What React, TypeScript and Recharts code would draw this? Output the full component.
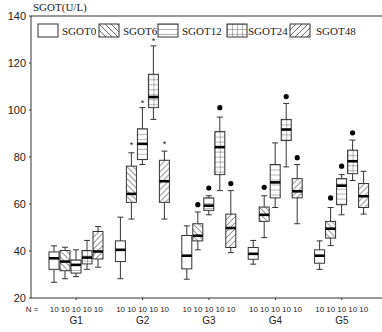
import React from 'react';
import { ComposedChart, Bar, XAxis, YAxis, ReferenceLine, Customized } from 'recharts';

const groups = ['G1', 'G2', 'G3', 'G4', 'G5'];
const nLabels = ['10', '10', '10', '10', '10'];
const yTicks = [20, 40, 60, 80, 100, 120, 140];
const seriesNames = ['SGOT0', 'SGOT6', 'SGOT12', 'SGOT24', 'SGOT48'];
const seriesPatterns = ['none', 'back', 'horiz', 'grid', 'fwd'];

// [lower whisker, Q1, median, Q3, upper whisker] per group
const sgot0 = [
  [26.7, 32.2, 36.9, 39.6, 42.2],
  [28.2, 35.5, 40.5, 44.3, 54.4],
  [28.0, 32.4, 38.0, 46.6, 50.7],
  [34.4, 36.5, 38.8, 41.5, 44.5],
  [32.2, 34.8, 38.0, 40.5, 44.3],
];
const sgot6 = [
  [28.2, 31.6, 35.5, 40.2, 41.6],
  [53.6, 60.7, 64.3, 76.1, 81.8],
  [40.5, 44.3, 46.5, 51.6, 56.6],
  [45.7, 52.6, 55.4, 58.7, 63.5],
  [42.3, 45.5, 49.5, 52.6, 58.5],
];
const sgot12 = [
  [29.1, 30.6, 34.1, 36.2, 40.5],
  [76.8, 78.9, 85.6, 92.0, 101.0],
  [55.4, 57.3, 59.3, 62.6, 63.5],
  [58.5, 62.6, 69.2, 76.8, 86.0],
  [55.4, 59.7, 67.8, 70.8, 72.5],
];
const sgot24 = [
  [32.2, 34.5, 37.2, 40.2, 44.5],
  [96.0, 101.0, 105.5, 115.2, 127.3],
  [65.7, 72.5, 84.2, 90.8, 97.0],
  [75.8, 87.0, 91.7, 96.0, 102.8],
  [70.0, 72.9, 78.2, 82.9, 87.2],
];
const sgot48 = [
  [33.1, 36.6, 39.8, 48.3, 50.4],
  [53.6, 60.7, 69.7, 78.6, 82.5],
  [39.3, 41.5, 49.8, 55.7, 65.7],
  [51.6, 62.6, 65.4, 70.8, 76.8],
  [55.7, 58.5, 63.3, 68.7, 73.9],
];

// outliers per group (null = none)
const out0 = [null, null, null, null, null];
const out6 = [null, 86.0, 59.7, 67.1, 62.6];
const out12 = [null, 103.8, 66.8, null, 76.1];
const out24 = [null, 130.2, 101.0, 105.7, 90.3];
const out48 = [null, 86.3, 68.7, 79.7, null];
const outlierMark = ['dot', 'star', 'dot', 'dot', 'dot'];

const statsBySeries = [sgot0, sgot6, sgot12, sgot24, sgot48];
const outBySeries = [out0, out6, out12, out24, out48];

const data = groups.map((g, i) => {
  const row: any = { group: g, mark: outlierMark[i] };
  seriesNames.forEach((s, si) => {
    row[s] = { stats: statsBySeries[si][i], out: outBySeries[si][i] };
  });
  return row;
});

const LINE = '#333';
const FONT_SANS = '"Liberation Sans", Arial, sans-serif';
const FONT_SERIF = '"Liberation Serif", "Times New Roman", serif';

function PatternDef({ id, type, x, y }: { id: string; type: string; x: number; y: number }) {
  const sw = 0.8;
  if (type === 'back') {
    return (
      <pattern id={id} x={x} y={y} width={6} height={6} patternUnits="userSpaceOnUse">
        <path d="M0,0 L6,6 M-1,5 L1,7 M5,-1 L7,1" stroke="#444" strokeWidth={sw} />
      </pattern>
    );
  }
  if (type === 'fwd') {
    return (
      <pattern id={id} x={x} y={y} width={6} height={6} patternUnits="userSpaceOnUse">
        <path d="M0,6 L6,0 M-1,1 L1,-1 M5,7 L7,5" stroke="#444" strokeWidth={sw} />
      </pattern>
    );
  }
  if (type === 'horiz') {
    return (
      <pattern id={id} x={x} y={y} width={10} height={5} patternUnits="userSpaceOnUse">
        <path d="M0,0 L10,0" stroke="#444" strokeWidth={sw} />
      </pattern>
    );
  }
  if (type === 'grid') {
    return (
      <pattern id={id} x={x} y={y} width={5} height={5} patternUnits="userSpaceOnUse">
        <path d="M0,0 L5,0 M0,0 L0,5" stroke="#444" strokeWidth={sw} />
      </pattern>
    );
  }
  return null;
}

function makeShape(name: string, si: number) {
  return (props: any) => {
    const { x, y, width, height, payload, index } = props;
    if (!payload || !payload[name]) return null;
    const [lo, q1, med, q3, hi] = payload[name].stats;
    const out = payload[name].out;
    const top = Math.min(y, y + height);
    const bot = Math.max(y, y + height);
    const k = (bot - top) / (hi - lo);
    const py = (v: number) => top + (hi - v) * k;
    const cx = x + width / 2;
    const yq3 = py(q3);
    const yq1 = py(q1);
    const ym = py(med);
    const type = seriesPatterns[si];
    const pid = `pat-${si}-${index}`;
    return (
      <g>
        <defs>
          <PatternDef id={pid} type={type} x={x} y={yq3} />
        </defs>
        <line x1={cx} x2={cx} y1={top} y2={yq3} stroke={LINE} strokeWidth={1} />
        <line x1={cx} x2={cx} y1={yq1} y2={bot} stroke={LINE} strokeWidth={1} />
        <line x1={cx - 3} x2={cx + 3} y1={top} y2={top} stroke={LINE} strokeWidth={1} />
        <line x1={cx - 3} x2={cx + 3} y1={bot} y2={bot} stroke={LINE} strokeWidth={1} />
        <rect x={x} y={yq3} width={width} height={yq1 - yq3} fill="#fff" />
        {type !== 'none' && (
          <rect x={x} y={yq3} width={width} height={yq1 - yq3} fill={`url(#${pid})`} />
        )}
        <rect x={x} y={yq3} width={width} height={yq1 - yq3} fill="none" stroke={LINE} strokeWidth={1} />
        <line x1={x} x2={x + width} y1={ym} y2={ym} stroke="#000" strokeWidth={2.6} />
        {out != null && payload.mark === 'dot' && <circle cx={cx} cy={py(out)} r={2.6} fill="#000" />}
        {out != null && payload.mark === 'star' && (
          <text x={cx} y={py(out) + 5} textAnchor="middle" fontSize={9} fontFamily={FONT_SANS} fill="#222">
            *
          </text>
        )}
      </g>
    );
  };
}

const legendSwatchX = [38, 99, 158, 227, 290];
const legendTextX = [62, 123, 182, 248, 316];

function LegendLayer() {
  return (
    <g>
      <text x={33} y={11} fontSize={11} fontFamily={FONT_SERIF} fill="#222">
        SGOT(U/L)
      </text>
      {seriesNames.map((s, i) => (
        <g key={s}>
          <defs>
            <PatternDef id={`leg-${i}`} type={seriesPatterns[i]} x={legendSwatchX[i]} y={24} />
          </defs>
          <rect x={legendSwatchX[i]} y={24} width={20} height={13} fill="#fff" />
          {seriesPatterns[i] !== 'none' && (
            <rect x={legendSwatchX[i]} y={24} width={20} height={13} fill={`url(#leg-${i})`} />
          )}
          <rect x={legendSwatchX[i]} y={24} width={20} height={13} fill="none" stroke={LINE} strokeWidth={1} />
          <text x={legendTextX[i]} y={35} fontSize={11} fontFamily={FONT_SERIF} fill="#222">
            {s}
          </text>
        </g>
      ))}
    </g>
  );
}

const XTick = (props: any) => {
  const { x, y, payload, index } = props;
  return (
    <g>
      <line x1={x} x2={x} y1={y} y2={y + 2} stroke={LINE} />
      {nLabels.map((t, k) => (
        <text key={k} x={x + (k - 2) * 11} y={y + 14} textAnchor="middle" fontSize={8} fontFamily={FONT_SANS} fill="#222">
          {t}
        </text>
      ))}
      <text x={x} y={y + 26} textAnchor="middle" fontSize={10} fontFamily={FONT_SANS} fill="#222">
        {payload.value}
      </text>
      {index === 0 && (
        <text x={x - 44} y={y + 14} textAnchor="middle" fontSize={8} fontFamily={FONT_SANS} fill="#222">
          N =
        </text>
      )}
    </g>
  );
};

export default function App() {
  return (
    <div style={{ width: 382, height: 332, background: '#fff' }}>
      <style>{'body{margin:0;background:#fff}'}</style>
      <ComposedChart
        width={382}
        height={332}
        data={data}
        margin={{ top: 16, right: 0, bottom: 0, left: 0 }}
        barSize={10}
        barGap={1}
      >
        <XAxis
          dataKey="group"
          type="category"
          height={34}
          padding={{ left: 12, right: 7 }}
          tickLine={false}
          tickSize={0}
          tickMargin={0}
          axisLine={{ stroke: LINE }}
          tick={<XTick />}
          interval={0}
        />
        <YAxis
          type="number"
          domain={[20, 140]}
          ticks={yTicks}
          width={31}
          tickSize={2}
          tickMargin={3}
          axisLine={{ stroke: LINE }}
          tickLine={{ stroke: LINE }}
          tick={{ fontSize: 11, fontFamily: FONT_SANS, fill: '#222' }}
          interval={0}
        />
        <ReferenceLine y={140} stroke={LINE} strokeWidth={1} />
        {seriesNames.map((s, si) => (
          <Bar
            key={s}
            dataKey={(d: any) => [d[s].stats[0], d[s].stats[4]]}
            shape={makeShape(s, si)}
            isAnimationActive={false}
          />
        ))}
        <Customized component={LegendLayer} />
      </ComposedChart>
    </div>
  );
}
